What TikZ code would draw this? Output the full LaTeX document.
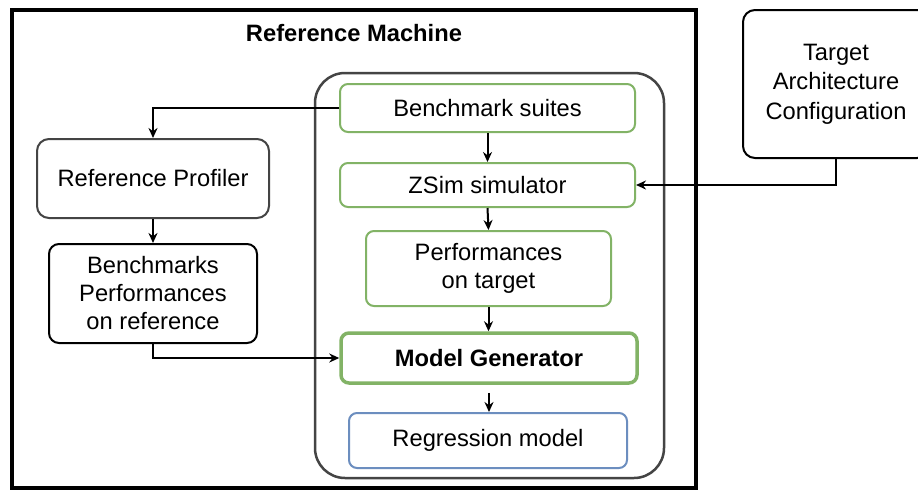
\documentclass[tikz,border=0pt]{standalone}
\usepackage{fontspec}
\setmainfont{Liberation Sans}
\usetikzlibrary{arrows.meta}
\definecolor{grn}{HTML}{82B366}
\definecolor{blu}{HTML}{6C8EBF}
\definecolor{dgray}{HTML}{444444}
\begin{document}
\begin{tikzpicture}[x=1pt,y=-1pt,
  every node/.style={font=\fontsize{23.7pt}{28pt}\selectfont, align=center, inner sep=0pt},
  box/.style={draw, rounded corners=8pt, line width=2pt, minimum width=#1},
  gbox/.style={box=#1, draw=grn},
  arr/.style={-{Stealth[length=10pt,width=9pt]}, line width=2pt}]
\clip (0,0) rectangle (918,491);
\fill[white] (0,0) rectangle (918,491);
% outer frame
\draw[line width=4pt] (11.5,9.5) rectangle (695.5,488);
\node[font=\fontsize{23.7pt}{28pt}\selectfont\bfseries] (title) at (354,33) {Reference Machine};
% inner container
\draw[draw=dgray, line width=2.5pt, rounded corners=30pt] (315,73) rectangle (664,478);
% nodes
\node[gbox=295pt, minimum height=48pt] (bs) at (487.5,108) {Benchmark suites};
\node[gbox=295pt, minimum height=44pt] (zs) at (487.5,185) {ZSim simulator};
\node[gbox=245pt, minimum height=75pt] (pt) at (488.5,268.5) {Performances\\on target};
\node[gbox=296pt, minimum height=50pt, line width=3.5pt, font=\fontsize{23.7pt}{28pt}\selectfont\bfseries] (mg) at (489,358) {Model Generator};
\node[box=278pt, draw=blu, minimum height=55pt] (rg) at (488,440.5) {Regression model};
\node[box=232pt, draw=dgray, rounded corners=12pt, minimum height=79pt] (rp) at (153,178.5) {Reference Profiler};
\node[box=208pt, rounded corners=10pt, minimum height=99pt] (bp) at (153,293.5) {Benchmarks\\Performances\\on reference};
\node[box=186pt, rounded corners=12pt, minimum height=148pt, font=\fontsize{23.7pt}{29.5pt}\selectfont] (ta) at (836,84) {Target\\Architecture\\Configuration};
% connectors
\draw[arr] (bs.west) -| (rp.north);
\draw[arr] (rp.south) -- (bp.north);
\draw[arr] (bp.south) |- (mg.west);
\draw[arr] (ta.south) |- (zs.east);
\draw[arr] (bs.south) -- (zs.north);
\draw[arr] (zs.south) -- (pt.north);
\draw[arr] (pt.south) -- (pt.south |- mg.north);
\draw[arr, shorten <=8pt] (mg.south) -- (mg.south |- rg.north);
\end{tikzpicture}
\end{document}
